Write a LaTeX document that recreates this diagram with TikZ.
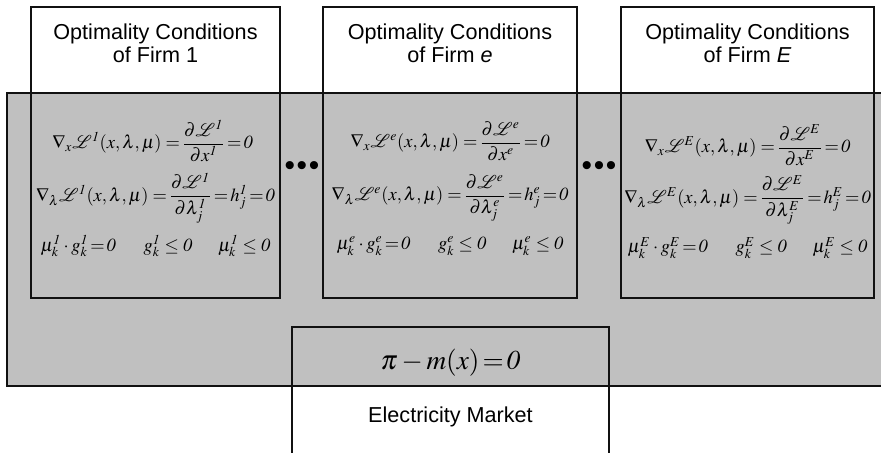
\documentclass[tikz,border=0pt]{standalone}
\usepackage{amsmath}
\usepackage{mathptmx}
\usepackage[no-math]{fontspec}
\setmainfont{Liberation Sans}
\usepackage{tikz}
\usetikzlibrary{positioning}
\definecolor{Ink}{HTML}{111111}
\definecolor{Panel}{HTML}{C0C0C0}

% the three lines of conditions for one firm
\newcommand{\tighteq}{\mkern2mu\mathord{=}\mkern2mu}
\newcommand{\gradx}[1]{$\nabla_{x}\mathcal{L}^{#1}\!\left(x,\lambda,\mu\right)\tighteq\dfrac{\partial\mathcal{L}^{#1}}{\partial x^{#1}}\tighteq\mathit{0}$}
\newcommand{\gradl}[1]{$\nabla_{\lambda}\mathcal{L}^{#1}\!\left(x,\lambda,\mu\right)\tighteq\dfrac{\partial\mathcal{L}^{#1}}{\partial\lambda_{j}^{#1}}\tighteq h_{j}^{#1}\tighteq\mathit{0}$}
\newcommand{\slack}[1]{$\mu_{k}^{#1}\cdot g_{k}^{#1}\tighteq\mathit{0}\hspace{1.5em} g_{k}^{#1}\le\mathit{0}\hspace{1.4em}\mu_{k}^{#1}\le\mathit{0}$}

\begin{document}
\begin{tikzpicture}[
  font=\fontsize{12.3}{13.2}\selectfont,
  firm/.style={draw=Ink, line width=1.1pt, inner sep=0pt, minimum height=5.82cm},
  panel/.style={draw=Ink, line width=0.7pt, fill=Panel, inner sep=0pt, minimum width=17.7cm, minimum height=5.86cm},
  market/.style={draw=Ink, line width=1.1pt, inner sep=0pt, minimum width=6.34cm, minimum height=2.8cm},
  title/.style={align=center},
  cond/.style={inner sep=0pt, font=\fontsize{10.5}{13}\selectfont},
  dots/.style={inner sep=0pt, font=\fontsize{17}{17}\selectfont}
]
\useasboundingbox (0,0) rectangle (17.62,9.04);

\node[panel] (coupling) at (8.99,4.25) {};

\node[firm, minimum width=4.98cm] (firmA) at (3.11,5.99) {};
\node[firm, minimum width=5.08cm] (firmB) at (9.00,5.99) {};
\node[firm, minimum width=5.06cm] (firmC) at (14.95,5.99) {};
\node[market] (market) at (9.01,1.10) {};

\node[title] (titleA) at (3.11,8.18) {Optimality Conditions\\of Firm 1};
\node[title] (titleB) at (9.00,8.18) {Optimality Conditions\\of Firm \textit{e}};
\node[title] (titleC) at (14.95,8.18) {Optimality Conditions\\of Firm \textit{E}};

\node[cond] (gxA) at (3.05,6.22) {\gradx{\mathit{1}}};
\node[cond] (glA) at (3.11,5.08) {\gradl{\mathit{1}}};
\node[cond] (skA) at (3.11,4.12) {\slack{\mathit{1}}};

\node[cond] (gxB) at (9.00,6.22) {\gradx{e}};
\node[cond] (glB) at (9.00,5.08) {\gradl{e}};
\node[cond] (skB) at (9.00,4.12) {\slack{e}};

\node[cond] (gxC) at (14.95,6.14) {\gradx{E}};
\node[cond] (glC) at (14.95,5.04) {\gradl{E}};
\node[cond] (skC) at (14.95,4.08) {\slack{E}};

\node[dots] (dotsAB) at (6.04,5.66) {\textbullet\kern1pt\textbullet\kern1pt\textbullet};
\node[dots] (dotsBC) at (11.98,5.66) {\textbullet\kern1pt\textbullet\kern1pt\textbullet};

\node[cond, font=\fontsize{15.5}{18}\selectfont] (clear) at (9.01,1.78) {$\boldsymbol{\pi}-m(x)\tighteq\mathit{0}$};
\node (label) at (9.01,0.70) {Electricity Market};
\end{tikzpicture}
\end{document}
